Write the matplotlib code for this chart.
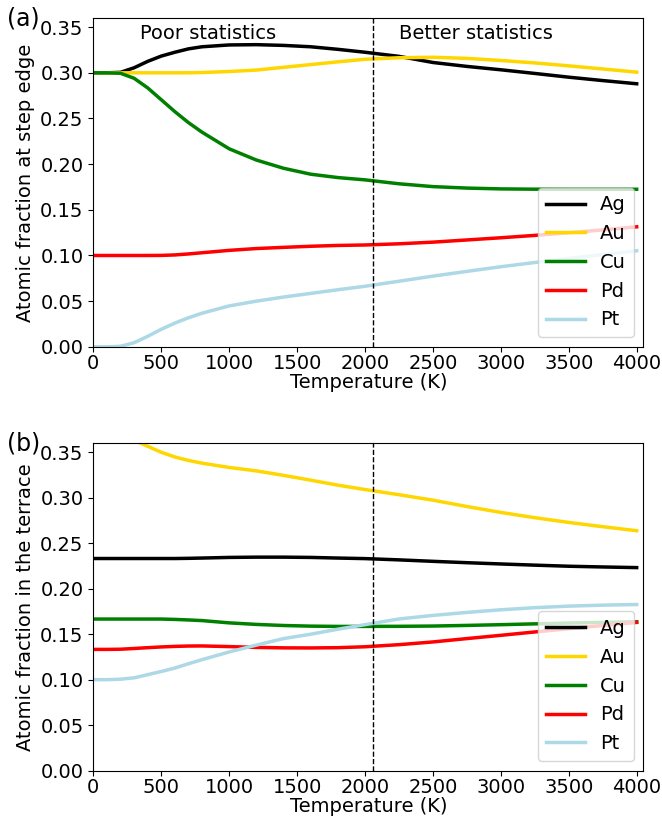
import numpy as np
import matplotlib
matplotlib.use('Agg')
import matplotlib.pyplot as plt

# temperature grid (K)
temps = [0, 100, 200, 300, 400, 500, 600, 700, 800, 1000, 1200, 1400, 1600, 1800,
         2000, 2250, 2500, 2750, 3000, 3250, 3500, 3750, 4000]

# (a) atomic fraction at step edge
edge_ag = [0.300, 0.300, 0.3005, 0.3055, 0.3125, 0.3183, 0.3225, 0.3262, 0.3285, 0.3305, 0.3308,
           0.3300, 0.3285, 0.3257, 0.3225, 0.318, 0.3113, 0.307, 0.3033, 0.2993, 0.2952, 0.2915, 0.288]
edge_au = [0.300, 0.300, 0.300, 0.300, 0.300, 0.300, 0.300, 0.300, 0.3003, 0.3014, 0.303,
           0.306, 0.309, 0.312, 0.3148, 0.3165, 0.317, 0.3158, 0.3135, 0.3108, 0.3076, 0.3042, 0.3007]
edge_cu = [0.300, 0.300, 0.2995, 0.294, 0.2835, 0.2705, 0.2575, 0.2455, 0.2350, 0.2168, 0.2045,
           0.1955, 0.189, 0.1853, 0.1828, 0.1785, 0.1754, 0.1738, 0.1729, 0.1726, 0.1725, 0.1725, 0.1725]
edge_pd = [0.100, 0.100, 0.100, 0.100, 0.100, 0.1001, 0.1006, 0.1017, 0.103, 0.1056, 0.1076,
           0.1089, 0.1101, 0.111, 0.1115, 0.1128, 0.1146, 0.117, 0.1194, 0.122, 0.1249, 0.128, 0.1314]
edge_pt = [0.0, 0.0, 0.0006, 0.0045, 0.0115, 0.0192, 0.0260, 0.0318, 0.0368, 0.0448, 0.0500,
           0.0545, 0.0585, 0.0625, 0.0663, 0.0718, 0.0774, 0.0826, 0.0877, 0.0923, 0.0968, 0.101, 0.1052]

# (b) atomic fraction in the terrace
terr_ag = [0.2333, 0.2333, 0.2333, 0.2333, 0.2333, 0.2333, 0.2333, 0.2335, 0.2338, 0.2345, 0.2348,
           0.2348, 0.2345, 0.2338, 0.2332, 0.2318, 0.2302, 0.2287, 0.2273, 0.226, 0.2248, 0.224, 0.2233]
terr_au = [0.3667, 0.3667, 0.366, 0.3635, 0.3568, 0.3502, 0.3450, 0.3412, 0.3382, 0.3335, 0.3297,
           0.3248, 0.3195, 0.314, 0.3092, 0.3035, 0.2975, 0.2905, 0.284, 0.2782, 0.273, 0.2683, 0.2639]
terr_cu = [0.1667, 0.1667, 0.1667, 0.1667, 0.1667, 0.1667, 0.1663, 0.1657, 0.165, 0.1625, 0.1608,
           0.1596, 0.1589, 0.1586, 0.1586, 0.1587, 0.159, 0.1597, 0.1605, 0.1614, 0.1623, 0.163, 0.1637]
terr_pd = [0.1333, 0.1333, 0.1335, 0.1343, 0.1352, 0.136, 0.1366, 0.137, 0.1371, 0.1364, 0.1355,
           0.135, 0.1349, 0.1352, 0.1362, 0.1385, 0.1415, 0.1452, 0.1488, 0.1525, 0.1561, 0.1596, 0.163]
terr_pt = [0.100, 0.100, 0.1005, 0.102, 0.1055, 0.109, 0.1128, 0.1175, 0.122, 0.1305, 0.138,
           0.1452, 0.150, 0.1555, 0.1605, 0.1668, 0.1707, 0.174, 0.1769, 0.1792, 0.1809, 0.182, 0.1827]

elements = ['Ag', 'Au', 'Cu', 'Pd', 'Pt']
colors = ['black', 'gold', 'green', 'red', 'lightblue']
t_split = 2060

fs = 14
fig = plt.figure(figsize=(6.62, 8.18), dpi=100)
ax1 = fig.add_axes([0.141, 0.576, 0.831, 0.402])
ax2 = fig.add_axes([0.141, 0.058, 0.831, 0.400])

panels = [
    (ax1, [edge_ag, edge_au, edge_cu, edge_pd, edge_pt], 'Atomic fraction at step edge'),
    (ax2, [terr_ag, terr_au, terr_cu, terr_pd, terr_pt], 'Atomic fraction in the terrace'),
]

for ax, series, ylab in panels:
    for name, col, vals in zip(elements, colors, series):
        ax.plot(temps, vals, color=col, lw=2.5, label=name)
    ax.axvline(t_split, color='black', ls='--', lw=1)
    ax.set_xlim(0, 4050)
    ax.set_ylim(0, 0.36)
    ax.set_xticks(np.arange(0, 4001, 500))
    ax.set_yticks(np.arange(0, 0.351, 0.05))
    ax.yaxis.set_major_formatter(matplotlib.ticker.FormatStrFormatter('%.2f'))
    ax.tick_params(labelsize=fs)
    ax.tick_params(axis='x', pad=2)
    ax.set_xlabel('Temperature (K)', fontsize=fs, labelpad=0)
    ax.set_ylabel(ylab, fontsize=fs)
    ax.legend(loc='lower right', fontsize=fs)

ax1.text(340, 0.337, 'Poor statistics', fontsize=fs)
ax1.text(2250, 0.337, 'Better statistics', fontsize=fs)

fig.text(0.01, 0.992, '(a)', fontsize=17, va='top', ha='left')
fig.text(0.01, 0.472, '(b)', fontsize=17, va='top', ha='left')

fig.savefig('out.png', dpi=100)
